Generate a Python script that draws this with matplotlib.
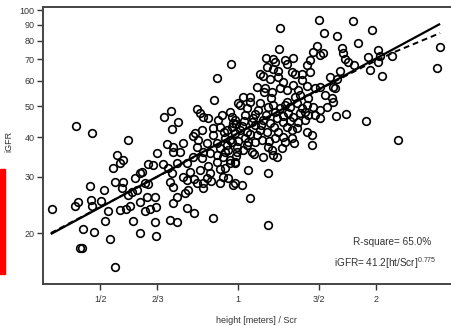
import matplotlib
matplotlib.use("Agg")
import matplotlib.pyplot as plt
from matplotlib.patches import Rectangle
import numpy as np

plt.rcParams['font.family'] = ['Liberation Sans', 'DejaVu Sans']

# height [m] / Scr  vs  iGFR
ratio = [
    0.393, 0.441, 0.448, 0.475, 0.510, 0.478, 0.480, 0.502, 0.459, 0.485,
    0.526, 0.452, 0.457, 0.539, 0.513, 0.520, 0.544, 0.553, 0.561, 0.534,
    0.539, 0.561, 0.558, 0.587, 0.602, 0.611, 0.596, 0.617, 0.636, 0.652,
    0.686, 0.666, 0.627, 0.636, 0.575, 0.611, 0.633, 0.659, 0.553, 0.570,
    0.581, 0.590, 0.611, 0.659, 0.662, 0.627, 0.643, 0.662, 0.711, 0.721,
    0.736, 0.721, 0.711, 0.736, 0.774, 0.802, 0.882, 0.759, 0.774, 0.778,
    0.766, 0.814, 0.839, 0.856, 0.869, 0.914, 0.927, 0.951, 0.975, 0.937,
    0.961, 0.985, 0.443, 0.480, 0.575, 0.965, 0.900, 0.886, 0.714, 0.689,
    0.740, 0.718, 0.814, 0.826, 0.839, 0.860, 0.806, 0.700, 0.721, 0.759,
    0.882, 0.914, 0.946, 0.975, 1.000, 0.961, 0.814, 0.856, 0.970, 0.985,
    0.985, 1.010, 0.835, 0.798, 0.818, 0.721, 0.747, 0.900, 0.914, 0.946,
    0.970, 0.995, 0.839, 0.798, 0.835, 0.869, 0.900, 0.927, 0.961, 0.990,
    0.703, 0.736, 0.774, 0.718, 0.786, 0.802, 0.826, 0.914, 0.839, 0.873,
    1.502, 1.235, 1.540, 1.645, 1.229, 1.151, 1.192, 1.204, 1.266, 1.318,
    1.279, 1.458, 1.487, 1.510, 1.533, 1.436, 1.414, 1.157, 1.192, 1.223,
    1.117, 1.134, 1.175, 1.223, 1.312, 1.332, 1.379, 1.436, 1.100, 1.145,
    1.186, 1.235, 1.279, 1.318, 1.352, 1.414, 1.472, 1.510, 1.025, 1.062,
    1.588, 1.645, 1.612, 1.782, 1.959, 1.827, 1.686, 1.695, 1.712, 1.738,
    1.791, 1.920, 2.019, 2.039, 2.019, 2.168, 1.940, 2.060, 2.760, 2.718,
    1.670, 1.628, 1.604, 1.612, 1.636, 1.720, 1.901, 2.234, 1.010, 1.046,
    1.036, 1.089, 1.117, 1.163, 1.192, 1.235, 1.266, 1.299, 1.345, 1.379,
    1.414, 1.458, 1.510, 1.564, 1.365, 1.421, 1.472, 1.510, 1.134, 1.175,
    1.217, 1.254, 1.318, 1.020, 1.046, 1.062, 1.117, 1.157, 1.279, 1.312,
    1.345, 1.414, 1.450, 1.450, 1.204, 1.254, 1.266, 1.312, 1.325, 1.089,
    1.046, 1.025, 0.995, 1.163, 1.186, 1.192, 1.217, 1.073, 1.084, 0.985,
    1.134, 1.052, 1.163, 0.985, 1.020, 1.062, 1.163, 1.073, 1.106, 1.286,
    1.400, 0.937, 1.036, 1.128, 1.248, 0.904, 0.937, 1.365, 1.548, 1.089,
    1.204, 0.961, 0.880, 0.930, 0.970, 1.030, 1.080, 1.120, 1.150, 1.200,
    1.250, 1.300, 1.350, 1.400, 1.050, 1.100, 1.170, 1.220, 0.950, 0.900,
    0.860, 1.000, 1.280, 1.330, 1.180, 1.420, 0.990, 0.920, 1.060, 1.140,
    1.250, 1.380,
]
igfr = [
    23.8, 24.3, 25.0, 28.1, 27.3, 25.4, 24.3, 25.2, 20.6, 20.2,
    19.2, 17.9, 17.9, 15.7, 21.8, 23.5, 35.1, 33.2, 33.9, 32.0,
    28.9, 28.9, 27.7, 26.9, 27.3, 30.9, 29.8, 31.1, 32.9, 32.7,
    32.9, 35.6, 28.7, 28.5, 26.3, 25.0, 26.0, 26.0, 23.6, 23.8,
    24.3, 21.8, 20.0, 21.7, 19.6, 23.5, 23.8, 24.1, 28.9, 27.9,
    26.0, 24.9, 22.0, 21.7, 24.0, 23.1, 22.3, 30.0, 29.3, 27.3,
    26.7, 28.7, 28.7, 29.8, 30.9, 28.7, 30.0, 29.8, 28.3, 32.0,
    33.2, 33.2, 43.3, 41.2, 39.1, 67.7, 61.2, 52.2, 48.2, 46.2,
    44.6, 42.4, 48.9, 47.6, 46.2, 45.9, 41.2, 38.0, 37.2, 38.3,
    42.7, 43.0, 42.1, 44.2, 51.1, 47.9, 37.2, 38.3, 46.2, 45.2,
    41.2, 42.1, 42.1, 40.3, 39.1, 35.9, 35.9, 38.3, 37.0, 37.8,
    38.6, 37.2, 35.9, 34.6, 34.4, 35.6, 35.1, 34.6, 33.9, 34.9,
    32.0, 33.2, 33.2, 30.9, 31.1, 29.5, 31.5, 31.8, 27.7, 29.1,
    93.0, 87.8, 84.7, 82.9, 75.5, 70.7, 70.2, 68.7, 69.7, 70.7,
    67.7, 73.9, 77.1, 72.3, 73.3, 69.7, 67.3, 66.3, 65.3, 64.4,
    63.0, 62.1, 60.8, 61.7, 63.9, 63.0, 63.0, 63.9, 57.4, 57.0,
    55.3, 57.0, 56.1, 58.2, 56.1, 57.8, 57.0, 57.4, 53.4, 53.4,
    61.7, 60.8, 57.4, 92.4, 86.6, 78.8, 76.0, 73.3, 70.2, 68.7,
    67.3, 71.3, 74.9, 71.8, 68.7, 71.8, 64.9, 62.1, 76.6, 65.8,
    64.4, 57.0, 53.0, 51.5, 46.5, 47.2, 44.9, 39.1, 50.4, 49.3,
    46.9, 47.2, 51.1, 49.7, 50.4, 49.3, 50.4, 49.7, 51.1, 49.3,
    50.4, 49.7, 48.6, 49.7, 47.6, 46.9, 46.9, 45.9, 45.2, 44.2,
    45.9, 44.6, 46.2, 43.3, 41.5, 40.9, 42.1, 41.5, 43.0, 42.1,
    42.7, 41.5, 40.6, 37.8, 39.7, 40.0, 38.6, 39.7, 38.3, 38.6,
    37.8, 36.4, 35.9, 37.2, 36.4, 35.1, 34.6, 35.9, 35.4, 33.4,
    34.6, 31.5, 30.9, 28.7, 28.3, 25.8, 21.2, 44.6, 48.6, 47.6,
    45.2, 39.7, 39.7, 39.1, 37.0, 45.2, 35.9, 54.2, 54.2, 43.6,
    47.9, 39.1, 40.5, 41.5, 43.0, 45.0, 46.0, 43.5, 47.0, 43.0,
    46.5, 45.0, 44.5, 48.0, 38.5, 40.5, 39.0, 41.5, 36.5, 33.5,
    32.5, 39.0, 51.5, 53.5, 53.0, 53.0, 44.0, 47.0, 51.5, 55.5,
    59.5, 60.5,
]

# fitted power law from the annotation
coef = 41.2
expo = 0.775
fit_x = [0.39, 2.76]

# dashed curve
dash_x = [0.39, 0.6, 1.0, 1.5, 1.9, 2.2, 2.76]
dash_y = [20.0, 27.7, 41.0, 56.3, 67.0, 74.0, 84.7]

xticks = [1/2, 2/3, 1, 3/2, 2]
xtick_labels = ['1/2', '2/3', '1', '3/2', '2']
yticks = [20, 30, 40, 50, 60, 70, 80, 90, 100]

fig = plt.figure(figsize=(4.52, 3.26), dpi=100)
ax = fig.add_axes([43/452, 1 - 284/326, 409/452, 277.5/326])

ax.plot(ratio, igfr, 'o', mfc='none', mec='black', ms=5.5, mew=1.2)

fx = np.array(fit_x)
ax.plot(fx, coef * fx ** expo, color='black', lw=1.6, solid_capstyle='butt')
ax.plot(dash_x, dash_y, color='black', lw=1.4, ls=(0, (3, 2)))

ax.set_xscale('log')
ax.set_yscale('log')
ax.set_xlim(0.375, 2.93)
ax.set_ylim(13.85, 102.6)

ax.xaxis.set_minor_locator(matplotlib.ticker.NullLocator())
ax.yaxis.set_minor_locator(matplotlib.ticker.NullLocator())
ax.set_xticks(xticks)
ax.set_xticklabels(xtick_labels)
ax.set_yticks(yticks)
ax.set_yticklabels([str(v) for v in yticks])
ax.tick_params(axis='both', labelsize=6.5, colors='#333333', length=4, width=1.0, pad=2)
ax.tick_params(axis='x', pad=4)

for side in ['left', 'bottom', 'top']:
    ax.spines[side].set_color('#444444')
    ax.spines[side].set_linewidth(1.4)
ax.spines['right'].set_visible(False)

ax.set_xlabel('height [meters] / Scr', fontsize=6.5, color='#333333')
ax.xaxis.set_label_coords(0.523, -0.115)
ax.set_ylabel('iGFR', fontsize=6.5, color='#333333')
ax.yaxis.set_label_coords(-0.073, 0.513)

ax.text(0.95, 0.153, 'R-square= 65.0%', transform=ax.transAxes,
        ha='right', va='center', fontsize=7.2, color='#333333')
ax.text(0.963, 0.075, r'iGFR= 41.2[ht/Scr]$^{\mathregular{0.775}}$', transform=ax.transAxes,
        ha='right', va='center', fontsize=7.2, color='#333333')

fig.patches.append(Rectangle((0, 1 - 274/326), 5/452, 105/326,
                             transform=fig.transFigure, color='red', zorder=5))

fig.savefig('out.png', dpi=100)
